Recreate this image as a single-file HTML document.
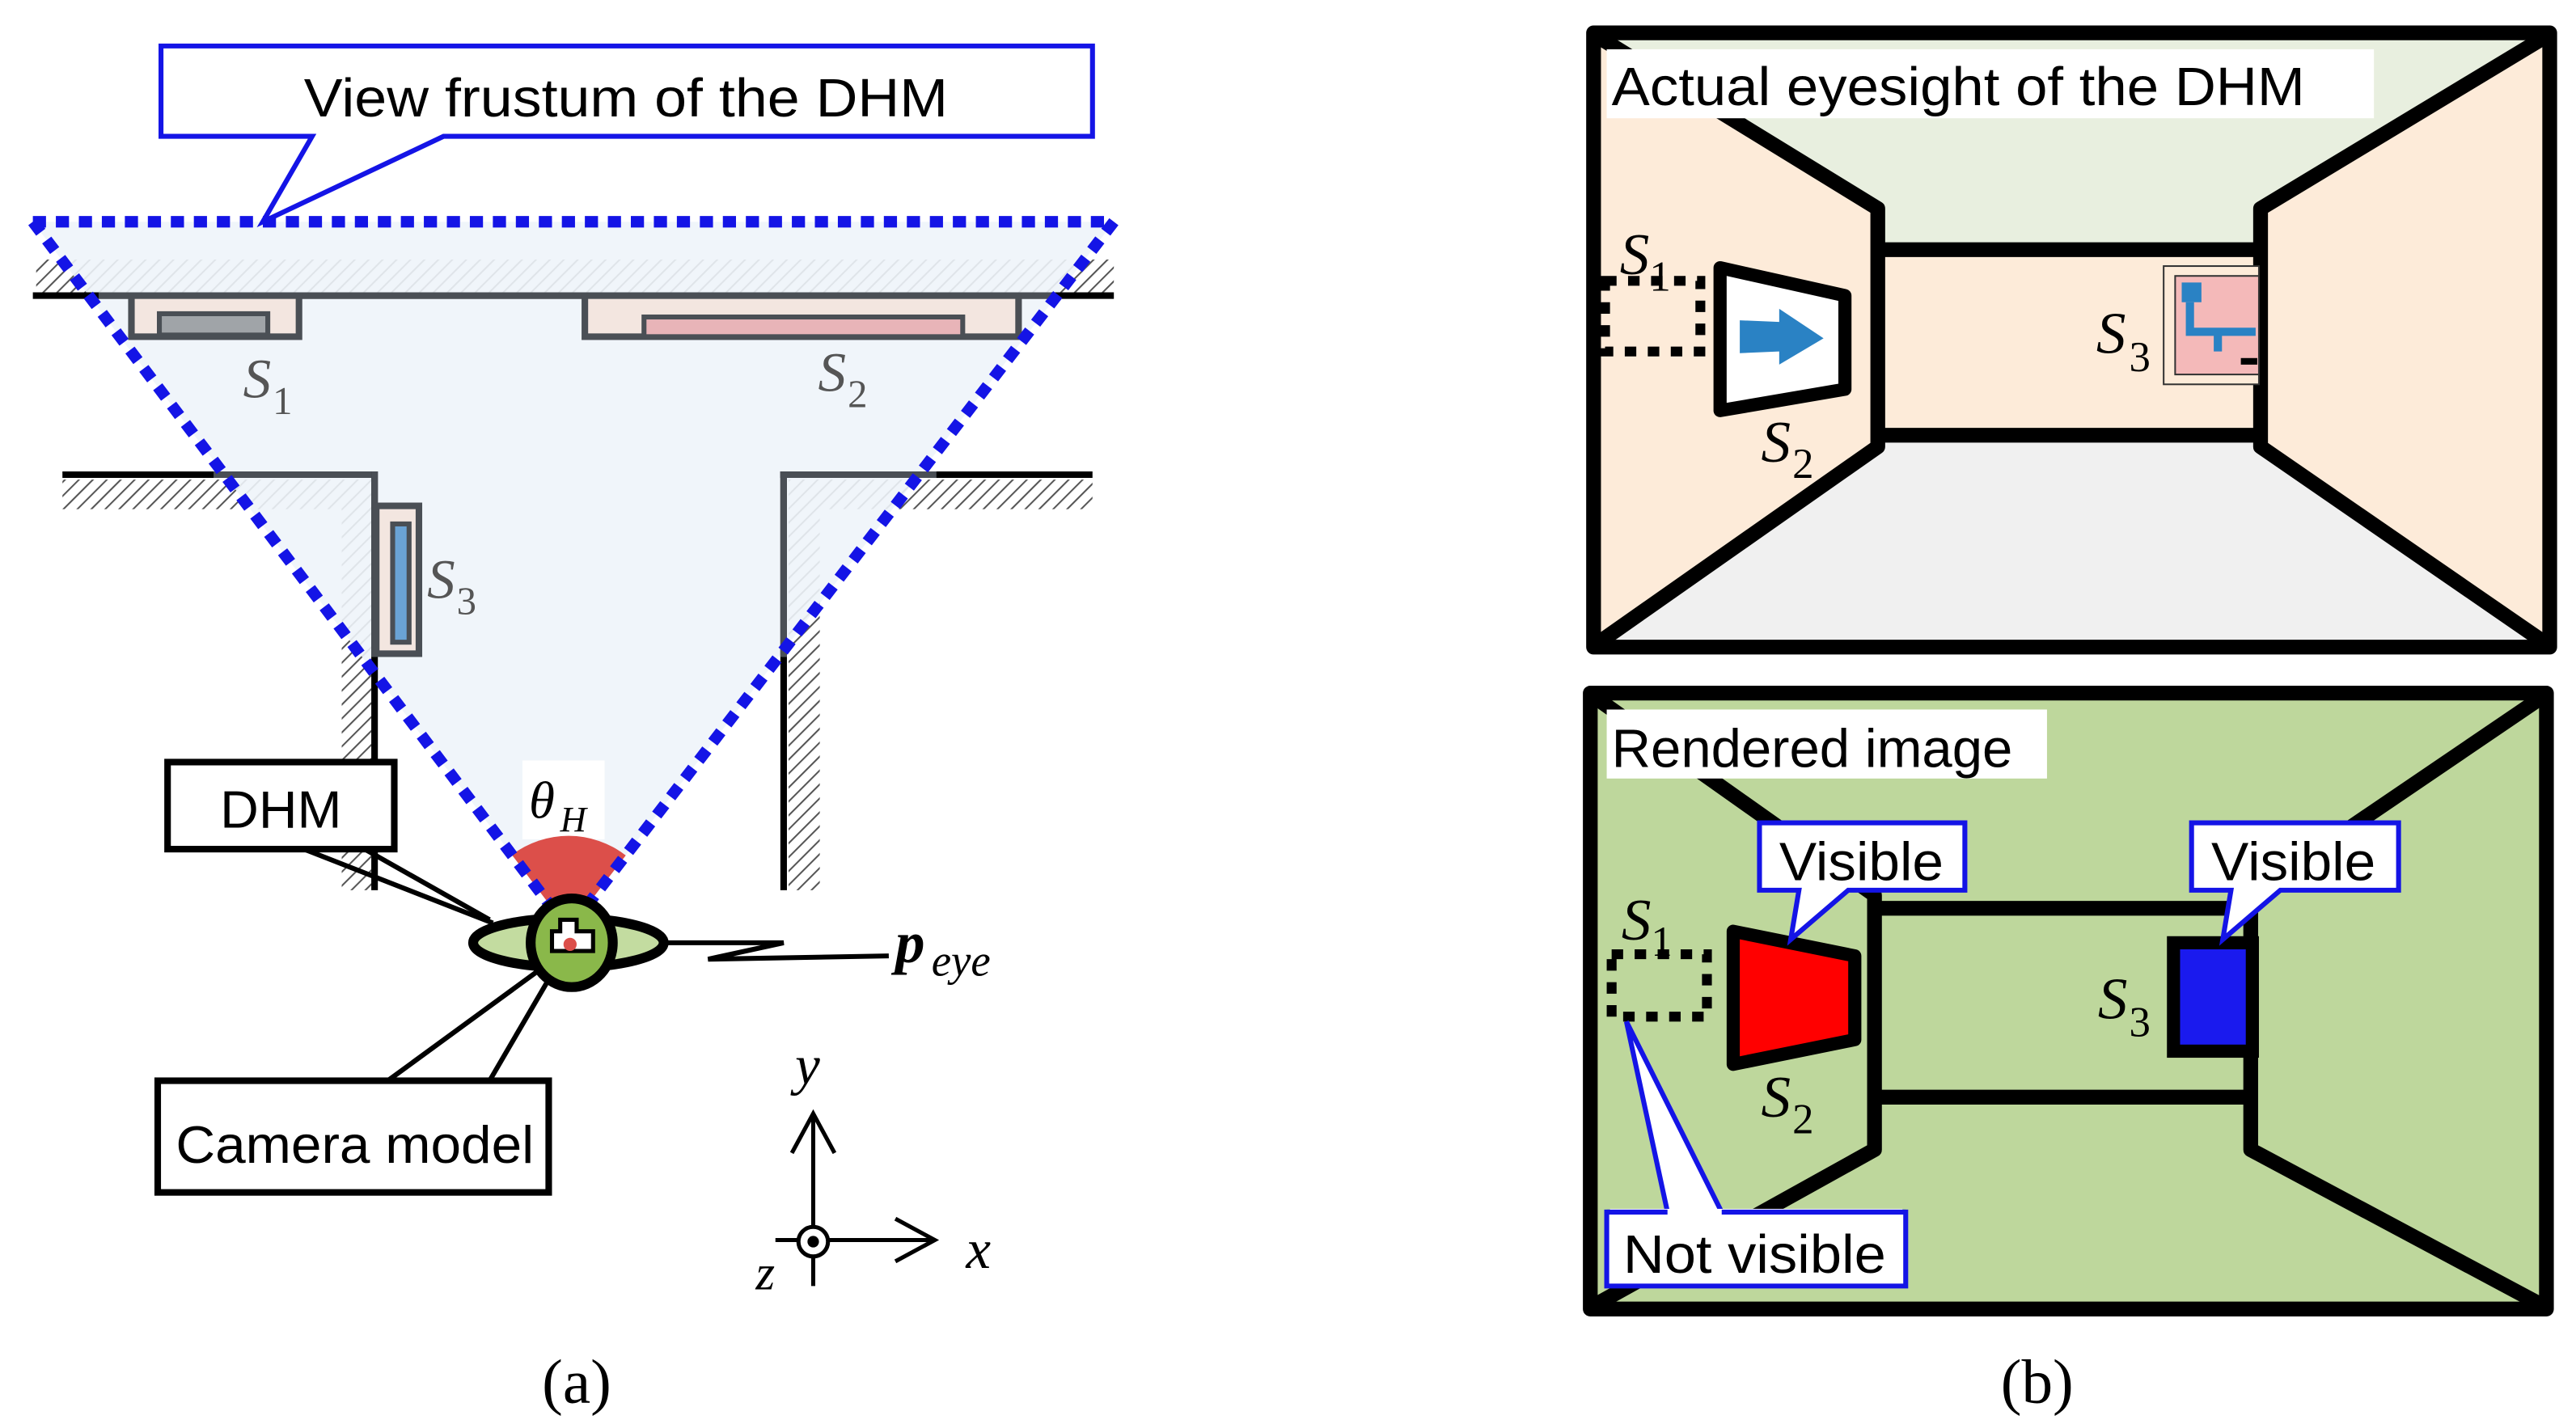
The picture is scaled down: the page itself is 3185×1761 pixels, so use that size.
<!DOCTYPE html>
<html><head><meta charset="utf-8"><style>
html,body{margin:0;padding:0;background:#fff;}
svg{display:block;}
.sans{font-family:"Liberation Sans",sans-serif;}
.serif{font-family:"Liberation Serif",serif;}
</style></head><body>
<svg width="3185" height="1761" viewBox="0 0 1568 867" preserveAspectRatio="none" xmlns="http://www.w3.org/2000/svg">
<defs>
<pattern id="h" width="6" height="6" patternUnits="userSpaceOnUse" patternTransform="rotate(45)">
<rect width="6" height="6" fill="#fff"/><line x1="0" y1="0" x2="0" y2="6" stroke="#555" stroke-width="2"/>
</pattern>
</defs>
<rect width="1568" height="867" fill="#fff"/>

<!-- ===== Panel (a) ===== -->
<rect x="22" y="158" width="656" height="20" fill="url(#h)"/>
<rect x="38" y="292" width="188" height="18" fill="url(#h)"/>
<rect x="208" y="292" width="18" height="250" fill="url(#h)"/>
<rect x="480" y="292" width="185" height="18" fill="url(#h)"/>
<rect x="480" y="292" width="19" height="250" fill="url(#h)"/>
<polygon points="20,135 678,135 346,566" fill="#eef4f9" opacity="0.9"/>
<line x1="20" y1="180" x2="678" y2="180" stroke="#000" stroke-width="4"/>
<line x1="60" y1="180" x2="640" y2="180" stroke="#4a4f55" stroke-width="4"/>
<line x1="38" y1="289" x2="228" y2="289" stroke="#000" stroke-width="4"/>
<line x1="130" y1="289" x2="228" y2="289" stroke="#4a4f55" stroke-width="4"/>
<line x1="228" y1="287" x2="228" y2="542" stroke="#000" stroke-width="4"/>
<line x1="228" y1="287" x2="228" y2="400" stroke="#4a4f55" stroke-width="4"/>
<line x1="477" y1="287" x2="477" y2="542" stroke="#000" stroke-width="4"/>
<line x1="477" y1="287" x2="477" y2="400" stroke="#4a4f55" stroke-width="4"/>
<line x1="475" y1="289" x2="665" y2="289" stroke="#000" stroke-width="4"/>
<line x1="475" y1="289" x2="570" y2="289" stroke="#4a4f55" stroke-width="4"/>
<rect x="80" y="180" width="102" height="25" fill="#f3e6e0" stroke="#4a4f55" stroke-width="4"/>
<rect x="97" y="191" width="66" height="13" fill="#a0a4a8" stroke="#4a4f55" stroke-width="3"/>
<rect x="356" y="180" width="264" height="25" fill="#f3e6e0" stroke="#4a4f55" stroke-width="4"/>
<rect x="392" y="193" width="194" height="12" fill="#e8b4b8" stroke="#4a4f55" stroke-width="3"/>
<rect x="229" y="308" width="26" height="90" fill="#f3e6e0" stroke="#4a4f55" stroke-width="4"/>
<rect x="239" y="319" width="10" height="72" fill="#6aa3d5" stroke="#4a4f55" stroke-width="3"/>
<text x="148" y="242" class="serif" font-style="italic" font-size="34" fill="#555">S</text><text x="166" y="252" class="serif" font-size="24" fill="#555">1</text>
<text x="498" y="238" class="serif" font-style="italic" font-size="34" fill="#555">S</text><text x="516" y="248" class="serif" font-size="24" fill="#555">2</text>
<text x="260" y="364" class="serif" font-style="italic" font-size="34" fill="#555">S</text><text x="278" y="374" class="serif" font-size="24" fill="#555">3</text>
<rect x="318" y="463" width="50" height="48" fill="#fff"/>
<text x="322" y="498" class="serif" font-style="italic" font-size="32">θ</text><text x="341" y="506" class="serif" font-style="italic" font-size="22">H</text>
<path d="M346,566 L311.6,520.5 A57,57 0 0 1 380.9,520.8 Z" fill="#dc4f4a"/>
<g stroke="#1414e6" stroke-width="7" stroke-dasharray="8,6" fill="none">
<line x1="20" y1="135" x2="678" y2="135"/>
<line x1="20" y1="135" x2="346" y2="566"/>
<line x1="678" y1="135" x2="346" y2="566"/>
</g>
<polyline points="185,517 300,562" stroke="#000" stroke-width="3" fill="none"/>
<polyline points="222,517 298,560" stroke="#000" stroke-width="3" fill="none"/>
<rect x="102" y="464" width="138" height="53" fill="#fff" stroke="#000" stroke-width="4"/>
<text x="134" y="504" class="sans" font-size="32" textLength="74" lengthAdjust="spacingAndGlyphs">DHM</text>
<polyline points="236,658 340,582" stroke="#000" stroke-width="3" fill="none"/>
<polyline points="298,658 340,586" stroke="#000" stroke-width="3" fill="none"/>
<rect x="96" y="658" width="238" height="68" fill="#fff" stroke="#000" stroke-width="4"/>
<text x="107" y="708" class="sans" font-size="32" textLength="218" lengthAdjust="spacingAndGlyphs">Camera model</text>
<polyline points="405,574 477,574 431,584 541,582" stroke="#000" stroke-width="3" fill="none"/>
<text x="545" y="586" class="serif" font-style="italic" font-weight="bold" font-size="36">p</text>
<text x="567" y="594" class="serif" font-style="italic" font-size="27">eye</text>
<ellipse cx="346" cy="574" rx="58" ry="15" fill="#c3dca0" stroke="#000" stroke-width="6"/>
<ellipse cx="348" cy="574" rx="25" ry="27" fill="#8ab84a" stroke="#000" stroke-width="6"/>
<path d="M341,560 h10 v7 h10 v12 h-25 v-12 h5 z" fill="#fff" stroke="#000" stroke-width="2.5"/>
<circle cx="347" cy="575" r="4" fill="#dc4f4a"/>
<line x1="495" y1="680" x2="495" y2="783" stroke="#000" stroke-width="2.5"/>
<polyline points="482,702 495,678 508,702" stroke="#000" stroke-width="2.5" fill="none"/>
<line x1="472" y1="755" x2="568" y2="755" stroke="#000" stroke-width="2.5"/>
<polyline points="545,742 569,755 545,768" stroke="#000" stroke-width="2.5" fill="none"/>
<circle cx="495" cy="756" r="9" fill="#fff" stroke="#000" stroke-width="2.5"/>
<circle cx="495" cy="756" r="3.5" fill="#000"/>
<text x="484" y="660" class="serif" font-style="italic" font-size="34">y</text>
<text x="588" y="772" class="serif" font-style="italic" font-size="34">x</text>
<text x="460" y="785" class="serif" font-style="italic" font-size="30">z</text>
<path d="M98,28 H665 V83 H270 L160,135 L190,83 H98 Z" fill="#fff" stroke="#1414e6" stroke-width="3"/>
<text x="185" y="71" class="sans" font-size="33" textLength="392" lengthAdjust="spacingAndGlyphs">View frustum of the DHM</text>
<text x="351" y="854" class="serif" font-size="38" text-anchor="middle">(a)</text>

<!-- ===== Panel (b) top ===== -->
<rect x="970" y="20" width="582" height="374" fill="#fdebd9"/>
<polygon points="972,22 1550,22 1376,127 1376,150 1143,150 1143,127" fill="#e8efdf"/>
<polygon points="1143,265 1376,265 1376,270 1550,392 972,392 1143,270" fill="#f0f0f0"/>
<g stroke="#000" stroke-width="9" fill="none" stroke-linejoin="round">
<rect x="970" y="20" width="582" height="374"/>
<polyline points="972,22 1143,127 1143,272 972,392"/>
<polyline points="1550,22 1376,127 1376,272 1550,392"/>
<line x1="1143" y1="152" x2="1376" y2="152"/>
<line x1="1143" y1="265" x2="1376" y2="265"/>
</g>
<rect x="978" y="30" width="467" height="42" fill="#fff"/>
<text x="981" y="64" class="sans" font-size="33" textLength="422" lengthAdjust="spacingAndGlyphs">Actual eyesight of the DHM</text>
<rect x="1317" y="162" width="58" height="72" fill="#fdebd9" stroke="#333" stroke-width="1"/>
<rect x="1324" y="168" width="51" height="60" fill="#f4b9b9" stroke="#333" stroke-width="1"/>
<rect x="1328" y="172" width="12" height="12" fill="#2a82c4"/>
<path d="M1333,184 v18 h40 M1350,202 v12" stroke="#2a82c4" stroke-width="5" fill="none"/>
<rect x="1364" y="218" width="10" height="4" fill="#000"/>
<text x="1276" y="215" class="serif" font-style="italic" font-size="36">S</text><text x="1296" y="226" class="serif" font-size="26">3</text>
<rect x="977" y="171" width="58" height="43" fill="none" stroke="#000" stroke-width="6" stroke-dasharray="7,7"/>
<text x="986" y="167" class="serif" font-style="italic" font-size="36">S</text><text x="1004" y="177" class="serif" font-size="26">1</text>
<polygon points="1047,163 1123,180 1123,237 1047,250" fill="#fff" stroke="#000" stroke-width="8" stroke-linejoin="round"/>
<polygon points="1059,195 1083,196 1083,188 1110,206 1083,222 1083,214 1059,215" fill="#2a82c4"/>
<text x="1072" y="281" class="serif" font-style="italic" font-size="36">S</text><text x="1091" y="291" class="serif" font-size="26">2</text>

<!-- ===== Panel (b) bottom ===== -->
<rect x="968" y="422" width="582" height="375" fill="#bed79c"/>
<g stroke="#000" stroke-width="9" fill="none" stroke-linejoin="round">
<rect x="968" y="422" width="582" height="375"/>
<polyline points="970,424 1141,545 1141,700 970,795"/>
<polyline points="1548,424 1370,545 1370,700 1548,795"/>
<line x1="1141" y1="553" x2="1370" y2="553"/>
<line x1="1141" y1="668" x2="1370" y2="668"/>
</g>
<rect x="978" y="432" width="268" height="42" fill="#fff"/>
<text x="981" y="467" class="sans" font-size="33" textLength="244" lengthAdjust="spacingAndGlyphs">Rendered image</text>
<rect x="981" y="581" width="58" height="38" fill="none" stroke="#000" stroke-width="6" stroke-dasharray="7,7"/>
<text x="987" y="572" class="serif" font-style="italic" font-size="36">S</text><text x="1005" y="582" class="serif" font-size="26">1</text>
<polygon points="1055,567 1129,582 1129,633 1055,648" fill="#ff0000" stroke="#000" stroke-width="8" stroke-linejoin="round"/>
<text x="1072" y="680" class="serif" font-style="italic" font-size="36">S</text><text x="1091" y="690" class="serif" font-size="26">2</text>
<rect x="1323" y="574" width="48" height="66" fill="#1a1aee" stroke="#000" stroke-width="8"/>
<text x="1277" y="620" class="serif" font-style="italic" font-size="36">S</text><text x="1296" y="631" class="serif" font-size="26">3</text>
<path d="M1071,501 H1196 V542 H1125 L1090,572 L1095,542 H1071 Z" fill="#fff" stroke="#1414e6" stroke-width="3"/>
<text x="1083" y="536" class="sans" font-size="33" textLength="100" lengthAdjust="spacingAndGlyphs">Visible</text>
<path d="M1334,501 H1460 V542 H1388 L1353,572 L1358,542 H1334 Z" fill="#fff" stroke="#1414e6" stroke-width="3"/>
<text x="1346" y="536" class="sans" font-size="33" textLength="100" lengthAdjust="spacingAndGlyphs">Visible</text>
<path d="M978,738 H1160 V783 H978 Z" fill="#fff" stroke="#1414e6" stroke-width="3"/>
<path d="M1015,738 L990,622 L1048,738" fill="#fff" stroke="#1414e6" stroke-width="3"/>
<rect x="980" y="736" width="178" height="5" fill="#fff"/>
<line x1="1015" y1="738" x2="978" y2="738" stroke="#1414e6" stroke-width="3"/>
<line x1="1048" y1="738" x2="1160" y2="738" stroke="#1414e6" stroke-width="3"/>
<text x="988" y="775" class="sans" font-size="33" textLength="160" lengthAdjust="spacingAndGlyphs">Not visible</text>
<text x="1240" y="854" class="serif" font-size="38" text-anchor="middle">(b)</text>
</svg>
</body></html>
